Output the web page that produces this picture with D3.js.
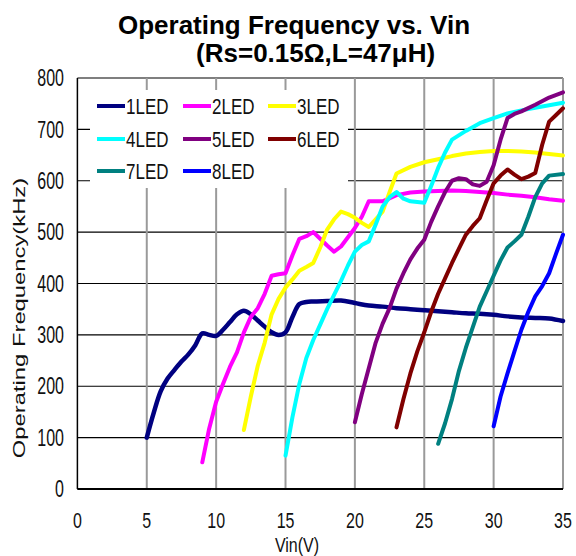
<!DOCTYPE html>
<html><head><meta charset="utf-8">
<script src="https://cdn.jsdelivr.net/npm/d3@7"></script>
<style>
html,body{margin:0;padding:0;background:#fff;}
svg{display:block;font-family:"Liberation Sans",Arial,sans-serif;}
</style></head>
<body>
<svg id="chart" width="576" height="556"></svg>
<script>
// ---------- data ----------
const titleLines = ["Operating Frequency vs. Vin", " (Rs=0.15Ω,L=47μH)"];
const xLabel = "Vin(V)";
const yLabel = "Operating Frequency(kHz)";
const xTicks = [0, 5, 10, 15, 20, 25, 30, 35];
const yTicks = [0, 100, 200, 300, 400, 500, 600, 700, 800];
const seriesNames = ["1LED","2LED","3LED","4LED","5LED","6LED","7LED","8LED"];
const seriesColors = ["#000080","#FF00FF","#FFFF00","#00FFFF","#800080","#800000","#008080","#0000FF"];

const vin1 = [5,5.5,6,6.5,7,7.5,8,8.5,9,9.5,10,10.5,11,11.5,12,12.5,13,13.5,14,14.5,15,15.5,16,16.5,17,18,19,20,21,22,23,24,25,26,27,28,29,30,31,32,33,34,35];
const freq1 = [100,148,190,215,232,248,262,280,303,300,298,310,325,340,347,340,328,316,305,300,305,335,360,364,365,366,367,362,357,355,352,350,348,346,344,342,341,339,336,334,333,332,327];

const vin2 = [9,9.5,10,10.5,11,11.5,12,12.5,13,13.5,14,14.5,15,15.5,16,16.5,17,17.5,18,18.5,19,19.5,20,20.5,21,22,23,24,25,26,27,28,29,30,31,32,33,34,35];
const freq2 = [52,118,170,205,238,266,305,335,352,380,415,418,420,455,487,492,500,487,474,462,472,490,508,530,560,560,572,577,579,580,581,580,578,576,573,571,568,564,561];

const vin3 = [12,12.5,13,13.5,14,14.5,15,15.5,16,16.5,17,17.5,18,18.5,19,19.5,20,20.5,21,21.5,22,22.5,23,24,25,26,27,28,29,30,31,32,33,34,35];
const freq3 = [115,180,240,285,340,370,392,408,425,432,440,470,505,525,540,535,528,518,510,525,540,578,614,627,636,642,648,653,656,658,658,657,655,652,649];

const vin4 = [15,15.5,16,16.5,17,17.5,18,18.5,19,19.5,20,20.5,21,21.5,22,22.5,23,23.5,24,25,25.5,26,26.5,27,28,29,30,31,32,33,34,35];
const freq4 = [65,140,205,255,290,320,350,378,405,435,462,475,482,515,550,568,578,565,560,557,590,625,655,680,697,712,722,731,737,742,747,752];

const vin5 = [20,20.5,21,21.5,22,22.5,23,23.5,24,24.5,25,25.5,26,26.5,27,27.5,28,28.5,29,29.5,30,30.5,31,31.5,32,33,34,35];
const freq5 = [130,185,235,285,322,352,390,420,447,468,485,520,550,578,600,605,603,593,590,598,630,680,722,730,735,748,762,772];

const vin6 = [23,23.5,24,24.5,25,25.5,26,26.5,27,27.5,28,28.5,29,29.5,30,30.5,31,31.5,32,32.5,33,33.5,34,34.5,35];
const freq6 = [120,175,225,268,305,345,380,410,440,468,495,512,527,562,595,610,622,612,603,608,615,670,715,728,741];

const vin7 = [26,26.5,27,27.5,28,28.5,29,29.5,30,30.5,31,31.5,32,32.5,33,33.5,34,35];
const freq7 = [88,128,175,230,275,315,355,385,415,445,470,482,495,530,568,595,610,613];

const vin8 = [30,30.5,31,31.5,32,32.5,33,33.5,34,34.5,35];
const freq8 = [122,180,225,268,310,345,375,395,420,458,495];

const vinAll = [vin1,vin2,vin3,vin4,vin5,vin6,vin7,vin8];
const freqAll = [freq1,freq2,freq3,freq4,freq5,freq6,freq7,freq8];

// ---------- chart ----------
const svg = d3.select("#chart");
const x = d3.scaleLinear().domain([0,35]).range([77.4,563]);
const y = d3.scaleLinear().domain([0,800]).range([489,78]);
const FONT = "'Liberation Sans', Arial, sans-serif";

// title
svg.append("text").attr("x",294).attr("y",34).attr("text-anchor","middle")
  .attr("font-size",26).attr("font-weight","bold").attr("fill","#000")
  .attr("font-family",FONT).text(titleLines[0]);
svg.append("text").attr("x",312).attr("y",62).attr("text-anchor","middle")
  .attr("font-size",26).attr("font-weight","bold").attr("fill","#000")
  .attr("font-family",FONT).attr("xml:space","preserve").text(titleLines[1]);

// horizontal gridlines (black)
svg.append("g").selectAll("line").data(yTicks).join("line")
  .attr("x1",x(0)).attr("x2",x(35))
  .attr("y1",d=>y(d)).attr("y2",d=>y(d))
  .attr("stroke","#000").attr("stroke-width",1.2);

// vertical gridlines (grey)
svg.append("g").selectAll("line").data(xTicks.slice(1)).join("line")
  .attr("x1",d=>x(d)).attr("x2",d=>x(d))
  .attr("y1",y(800)).attr("y2",y(0))
  .attr("stroke","#9a9a9a").attr("stroke-width",2);

// axis lines
svg.append("line").attr("x1",x(0)).attr("x2",x(0)).attr("y1",y(800)).attr("y2",y(0))
  .attr("stroke","#000").attr("stroke-width",1.5);
svg.append("line").attr("x1",x(0)).attr("x2",x(35)).attr("y1",y(0)).attr("y2",y(0))
  .attr("stroke","#000").attr("stroke-width",2);

// series lines
const line = d3.line().x(d=>x(d[0])).y(d=>y(d[1]));
const gLines = svg.append("g");
seriesNames.forEach((name,i)=>{
  const pts = vinAll[i].map((v,j)=>[v,freqAll[i][j]]);
  gLines.append("path").datum(pts)
    .attr("d", line.curve(i===0 ? d3.curveCatmullRom.alpha(0.5) : d3.curveLinear))
    .attr("fill","none").attr("stroke",seriesColors[i])
    .attr("stroke-width", i===0 ? 4.5 : 4)
    .attr("stroke-linejoin","round").attr("stroke-linecap","round");
});

// legend
const legend = svg.append("g");
legend.append("rect").attr("x",90).attr("y",90).attr("width",258).attr("height",98).attr("fill","#fff");
const colX = [97, 183, 268];
const rowY = [106, 139, 171];
seriesNames.forEach((name,i)=>{
  const cx = colX[i%3], cy = rowY[Math.floor(i/3)];
  legend.append("line").attr("x1",cx).attr("x2",cx+28).attr("y1",cy).attr("y2",cy)
    .attr("stroke",seriesColors[i]).attr("stroke-width",4);
  legend.append("text").attr("transform",`translate(${cx+29},${cy}) scale(1,1.35)`)
    .attr("dominant-baseline","central").attr("font-size",17)
    .attr("font-family",FONT).attr("fill","#111").text(name);
});

// y tick labels
svg.append("g").selectAll("text").data(yTicks).join("text")
  .attr("transform",d=>`translate(64,${y(d)}) scale(1,1.5)`)
  .attr("text-anchor","end").attr("dominant-baseline","central")
  .attr("font-size",16).attr("font-family",FONT).attr("fill","#111")
  .text(d=>d);

// x tick labels
svg.append("g").selectAll("text").data(xTicks).join("text")
  .attr("transform",d=>`translate(${x(d)},${520}) scale(1,1.4)`)
  .attr("text-anchor","middle").attr("dominant-baseline","central")
  .attr("font-size",16).attr("font-family",FONT).attr("fill","#111")
  .text(d=>d);

// axis titles
svg.append("text").attr("transform",`translate(297,545) scale(1,1.25)`)
  .attr("text-anchor","middle").attr("dominant-baseline","central")
  .attr("font-size",16).attr("font-family",FONT).attr("fill","#111").text(xLabel);
svg.append("text").attr("transform",`translate(19,318) rotate(-90) scale(1.4,1)`)
  .attr("text-anchor","middle").attr("dominant-baseline","central")
  .attr("font-size",17).attr("font-family",FONT).attr("fill","#111").text(yLabel);
</script>
</body></html>
